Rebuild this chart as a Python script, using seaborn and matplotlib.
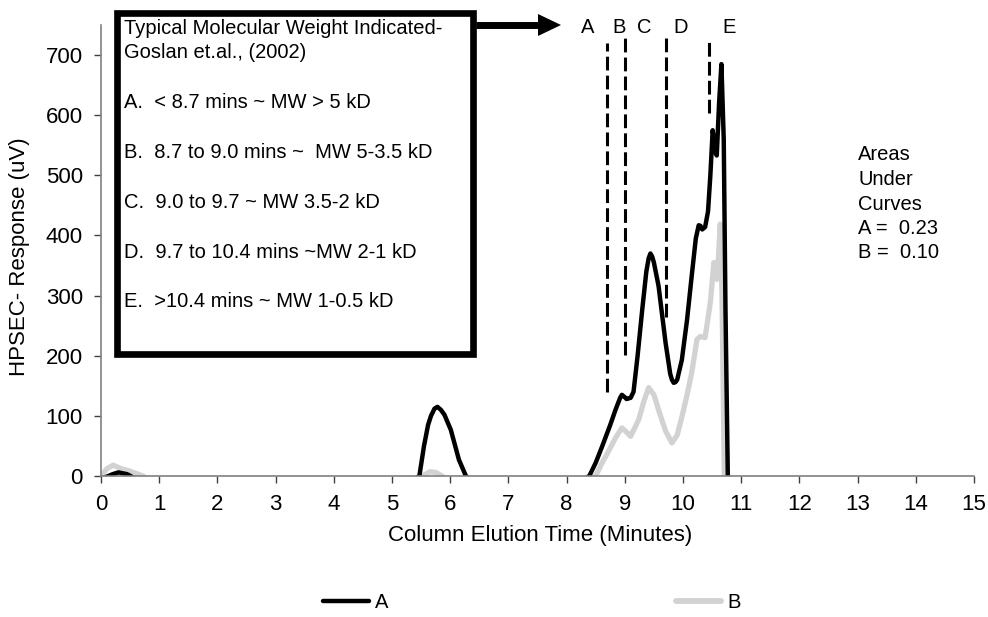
import numpy as np
import pandas as pd
import matplotlib
matplotlib.use("Agg")
import matplotlib.pyplot as plt
import seaborn as sns
from matplotlib.patches import Rectangle, Polygon
from matplotlib.lines import Line2D

# ---------------- data ----------------
time_a = [0, 0.2, 0.3, 0.45, 0.6, 1.0, 5.3, 5.47, 5.55, 5.62, 5.67, 5.73, 5.78, 5.84, 5.9, 6.01,
          6.15, 6.27, 6.4,
          8.2, 8.39, 8.5, 8.61, 8.75, 8.84, 8.92, 8.95, 9.0, 9.03, 9.1, 9.15, 9.22, 9.30, 9.37,
          9.41, 9.44, 9.47, 9.5, 9.58, 9.7, 9.78, 9.81, 9.84, 9.87, 9.9, 9.98, 10.07, 10.15,
          10.22, 10.27, 10.30, 10.33, 10.38, 10.43, 10.47, 10.51, 10.53, 10.55, 10.58, 10.62,
          10.66, 10.70, 10.73, 10.77, 10.85, 15]
resp_a = [-5, 3, 6, 3, -5, -10, -10, 0, 50, 85, 100, 112, 115, 110, 102, 77,
          27, 0, -10,
          -10, 0, 22, 49, 85, 110, 130, 135, 131, 128, 130, 140, 200, 277, 340,
          362, 370, 365, 355, 316, 222, 170, 160, 155, 156, 160, 193, 260, 333,
          395, 417, 416, 410, 414, 440, 500, 575, 560, 540, 533, 620,
          685, 560, 277, 0, -10, -10]

time_b = [0, 0.1, 0.21, 0.35, 0.5, 0.72, 0.9, 5.4, 5.52, 5.65, 5.75, 5.86, 6.0, 8.3, 8.5, 8.6,
          8.73, 8.85, 8.95, 9.02, 9.10, 9.24, 9.33, 9.41, 9.5, 9.58, 9.7, 9.81, 9.9, 9.98, 10.07,
          10.15, 10.24, 10.3, 10.38, 10.47, 10.53, 10.58, 10.61, 10.64, 10.67, 10.71, 10.8, 15]
resp_b = [0, 12, 18, 12, 8, 0, -10, -10, 0, 7, 6, 0, -10, -10, 0, 20,
          43, 65, 80, 74, 66, 94, 125, 147, 135, 110, 75, 55, 68, 98, 135,
          172, 227, 232, 230, 289, 355, 327, 365, 419, 300, 0, -10, -10]

series_names = ["A", "B"]
series_colors = {"A": "#000000", "B": "#d2d2d2"}

x_ticks = list(range(0, 16))
y_ticks = list(range(0, 701, 100))

# molecular weight region boundaries (minutes) and dashed line extents (uV)
boundary_times = [8.7, 9.0, 9.7, 10.45]
boundary_low = [140, 202, 264, 603]
boundary_high = [720, 728, 728, 724]
region_labels = ["A", "B", "C", "D", "E"]
region_label_times = [8.37, 8.91, 9.33, 9.96, 10.79]

box_lines = ["Typical Molecular Weight Indicated-",
             "Goslan et.al., (2002)",
             "",
             "A.  < 8.7 mins ~ MW > 5 kD",
             "",
             "B.  8.7 to 9.0 mins ~  MW 5-3.5 kD",
             "",
             "C.  9.0 to 9.7 ~ MW 3.5-2 kD",
             "",
             "D.  9.7 to 10.4 mins ~MW 2-1 kD",
             "",
             "E.  >10.4 mins ~ MW 1-0.5 kD"]
area_lines = ["Areas", "Under", "Curves", "A =  0.23", "B =  0.10"]

# ---------------- build frame ----------------
df = pd.concat([
    pd.DataFrame({"time": time_a, "response": resp_a, "sample": "A"}),
    pd.DataFrame({"time": time_b, "response": resp_b, "sample": "B"}),
], ignore_index=True)

sns.set_theme(style="white")
plt.rcParams["font.family"] = ["Liberation Sans", "DejaVu Sans"]
for k in ["text.color", "axes.labelcolor", "xtick.color", "ytick.color"]:
    plt.rcParams[k] = "black"
FS_AX = 16
FS_TXT = 14.5

W, H = 988, 617
fig = plt.figure(figsize=(W / 100, H / 100), dpi=100)
ax = fig.add_axes([101 / W, 1 - 476 / H, (974 - 101) / W, (476 - 25) / H])

sns.lineplot(data=df, x="time", y="response", hue="sample", hue_order=["B", "A"],
             palette=series_colors, estimator=None, sort=False, ax=ax, legend=False,
             linewidth=3.2)
for line in ax.get_lines():
    line.set_solid_joinstyle("round")
    if matplotlib.colors.to_hex(line.get_color()) == series_colors["B"]:
        line.set_linewidth(3.8)

ax.set_xlim(0, 15)
ax.set_ylim(0, 750)
ax.set_xticks(x_ticks)
ax.set_yticks(y_ticks)
ax.tick_params(axis="both", labelsize=FS_AX, direction="out", length=5, width=1,
               color="#404040", bottom=True, left=True, pad=8)
for s in ["top", "right"]:
    ax.spines[s].set_visible(False)
for s in ["left", "bottom"]:
    ax.spines[s].set_color("#808080")
    ax.spines[s].set_linewidth(1.2)
ax.set_xlabel("Column Elution Time (Minutes)", fontsize=FS_AX)
ax.set_ylabel("HPSEC- Response (uV)", fontsize=FS_AX)
ax.xaxis.set_label_coords(0.503, (476 - 536) / 451)
ax.xaxis.label.set_va("center")
ax.yaxis.set_label_coords((20 - 101) / 873, 0.486)
ax.yaxis.label.set_va("center")

# dashed boundaries
for t, lo, hi in zip(boundary_times, boundary_low, boundary_high):
    ax.plot([t, t], [lo, hi], color="black", lw=2.2, linestyle=(0, (4.5, 1.7)),
            clip_on=False, zorder=5)
for lab, t in zip(region_labels, region_label_times):
    ax.text(t, 746, lab, ha="center", va="center", fontsize=FS_TXT, clip_on=False)

# info box
fig.patches.append(Rectangle((117 / W, 1 - 354 / H), (473 - 117) / W, (354 - 13) / H,
                             transform=fig.transFigure, fill=True, facecolor="white",
                             edgecolor="black", linewidth=4.8, zorder=10))
for i, line in enumerate(box_lines):
    if line:
        fig.text(124 / W, 1 - (28 + i * 24.9) / H, line, fontsize=FS_TXT,
                 ha="left", va="center", zorder=11)
# arrow: shaft + head
fig.add_artist(Line2D([476 / W, 542 / W], [1 - 25 / H, 1 - 25 / H],
                      transform=fig.transFigure, color="black", lw=5.0,
                      solid_capstyle="butt"))
fig.add_artist(Polygon([(538 / W, 1 - 14 / H), (561 / W, 1 - 25 / H), (538 / W, 1 - 36 / H)],
                       closed=True, transform=fig.transFigure, facecolor="black",
                       edgecolor="none"))

for i, line in enumerate(area_lines):
    fig.text(858 / W, 1 - (155 + i * 24.5) / H, line, fontsize=FS_TXT,
             ha="left", va="center")

# legend
leg_handles = [Line2D([], [], color=series_colors["A"], lw=3.2),
               Line2D([], [], color=series_colors["B"], lw=4.2)]
fig.legend(leg_handles, series_names, loc="center", bbox_to_anchor=(532 / W, 1 - 603 / H),
           ncol=2, frameon=False, fontsize=FS_TXT, handlelength=2.25, handletextpad=0.3,
           columnspacing=14.3)

fig.savefig("out.png", dpi=100)
